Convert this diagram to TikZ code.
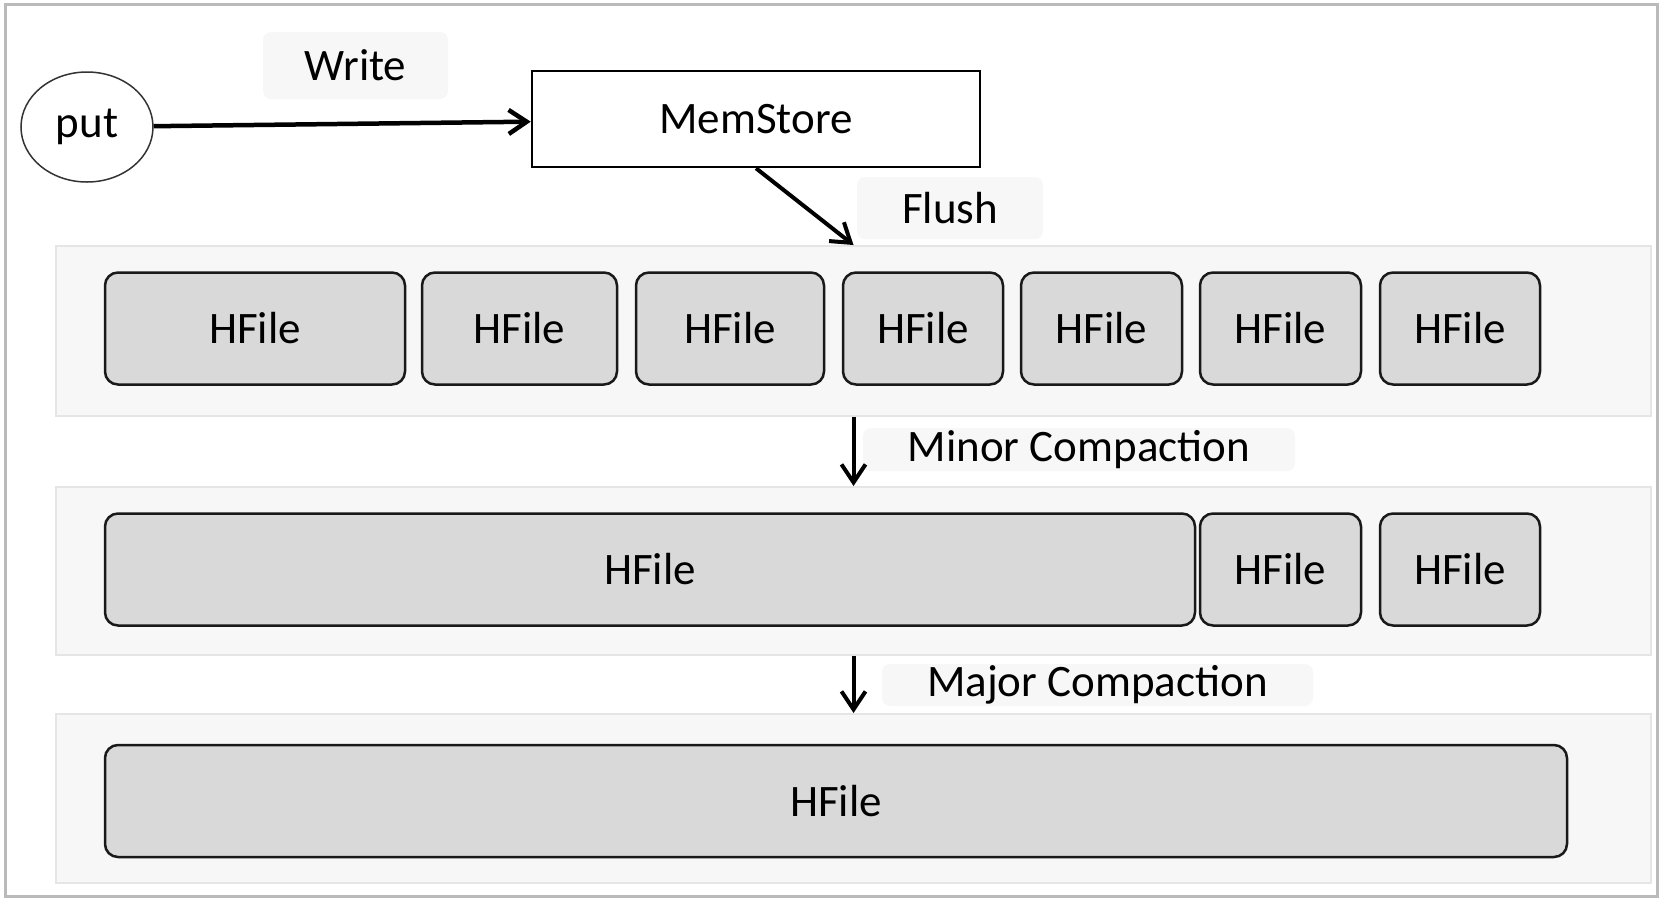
\documentclass[tikz,border=0pt]{standalone}
\usepackage{fontspec}
\setmainfont{Carlito}
\usepackage{tikz}
\usetikzlibrary{arrows.meta,shapes.geometric}

\tikzset{
    band/.style={draw=black!10, fill=black!3, line width=2pt, minimum width=1595pt},
    hfile/.style={draw=black!90, fill=black!15, line width=2.5pt, rounded corners=13pt, minimum height=112pt},
    lbl/.style={fill=black!3, rounded corners=8pt, inner sep=0pt},
    arr/.style={-{Straight Barb[length=18pt,width=24pt]}, line width=4pt},
}

\begin{document}
\begin{tikzpicture}[x=1pt, y=-1pt, font=\fontsize{45}{54}\selectfont]
    \useasboundingbox (0,0) rectangle (1668,898);
    \draw [black!27, line width=3pt] (5,4) rectangle (1657,896);
    \node [band, minimum height=170pt] (band1) at (853.5,331) {};
    \node [band, minimum height=168pt] (band2) at (853.5,571) {};
    \node [band, minimum height=169pt] (band3) at (853.5,798.5) {};
    \foreach \l/\r [count=\i] in {105/405, 422/617, 636/824, 843/1003, 1021/1182, 1200/1361, 1380/1540}
        \node [hfile, minimum width=\r-\l] (one\i) at ({(\l+\r)/2},328.5) {HFile};
    \foreach \l/\r [count=\i] in {105/1195, 1200/1361, 1380/1540}
        \node [hfile, minimum width=\r-\l] (two\i) at ({(\l+\r)/2},569.5) {HFile};
    \node [hfile, minimum width=1462pt] (three1) at (836,801) {HFile};
    \node [draw=black!80, line width=1.5pt, ellipse, inner sep=0pt, minimum width=132pt, minimum height=110pt] (put) at (87,127) {put};
    \node [draw, line width=2.5pt, minimum width=448pt, minimum height=96pt] (mem) at (756,119) {MemStore};
    \node [lbl, minimum width=185pt, minimum height=67pt] (write) at (355.5,65.5) {Write};
    \node [lbl, minimum width=186pt, minimum height=62pt] (flush) at (950,208) {Flush};
    \node [lbl, minimum width=432pt, minimum height=43pt] (minor) at (1079,449.5) {Minor Compaction};
    \node [lbl, minimum width=431pt, minimum height=42pt] (major) at (1097.5,685) {Major Compaction};
    \draw [arr, line width=4.5pt] (put) -- (mem);
    \draw [arr] (mem.south) -- (band1.north);
    \draw [arr] (band1.south) -- (band2.north);
    \draw [arr] (band2.south) -- (band3.north);
\end{tikzpicture}
\end{document}
